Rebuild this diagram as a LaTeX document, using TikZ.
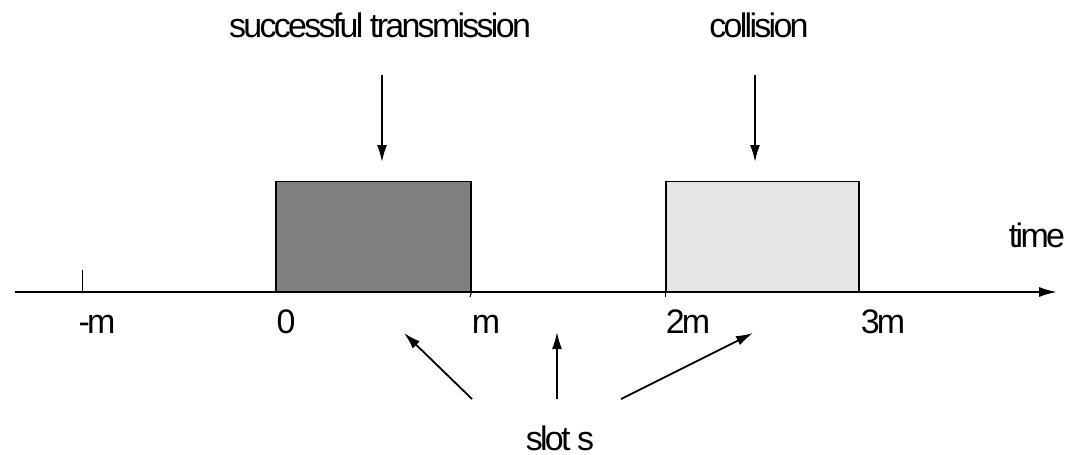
\documentclass[tikz,border=0pt]{standalone}
\usepackage{fontspec}
\setmainfont{Liberation Sans}[LetterSpace=-8]
\usetikzlibrary{arrows.meta}
\begin{document}
\begin{tikzpicture}[x=1pt,y=-1pt,
  lbl/.style={inner sep=0pt,anchor=base,font=\fontsize{34}{40}\selectfont},
  arr/.style={line width=1.8pt,-{Latex[length=17pt,width=10pt]}},
  slotbox/.style={draw=black,line width=1.5pt,inner sep=0pt,minimum width=195pt,minimum height=110pt,anchor=south west}]
\useasboundingbox (0,0) rectangle (1066,455);
% axis
\coordinate (axs) at (15,292);
\coordinate (axe) at (1057,292);
\draw[line width=1.8pt,-{Latex[length=18pt,width=10pt]}] (axs) -- (axe);
\coordinate (tk1) at (82,270);
\coordinate (tk2) at (82,292);
\draw[line width=1pt] (tk1) -- (tk2);
% boxes
\node[slotbox,fill=black!50] (b1) at (275,292) {};
\node[slotbox,fill=black!10,minimum width=193pt] (b2) at (665,292) {};
\coordinate (m1) at (470,297);
\coordinate (m2) at (665,297);
\draw[line width=1pt] (b1.south east) -- (m1);
\draw[line width=1pt] (b2.south west) -- (m2);
% labels
\node[lbl] (succ) at (380,37) {successful transmission};
\node[lbl] (coll) at (759,37) {collision};
\node[lbl] (time) at (1037,247) {time};
\node[lbl] (lm) at (97,333) {-m};
\node[lbl] (l0) at (286,333) {0};
\node[lbl] (l1) at (486,333) {m};
\node[lbl] (l2) at (688,333) {2m};
\node[lbl] (l3) at (883,333) {3m};
\node[lbl] (slot) at (560,450) {slot s};
% top arrows
\coordinate (a1s) at (382,75);
\coordinate (a1e) at (382,162);
\coordinate (a2s) at (755,75);
\coordinate (a2e) at (755,162);
\draw[arr] (a1s) -- (a1e);
\draw[arr] (a2s) -- (a2e);
% slot arrows
\coordinate (s1s) at (472,399);
\coordinate (s1e) at (404,333);
\coordinate (s2s) at (557,399);
\coordinate (s2e) at (557,332);
\coordinate (s3s) at (621,399);
\coordinate (s3e) at (753,333);
\draw[arr] (s1s) -- (s1e);
\draw[arr] (s2s) -- (s2e);
\draw[arr] (s3s) -- (s3e);
\end{tikzpicture}
\end{document}
